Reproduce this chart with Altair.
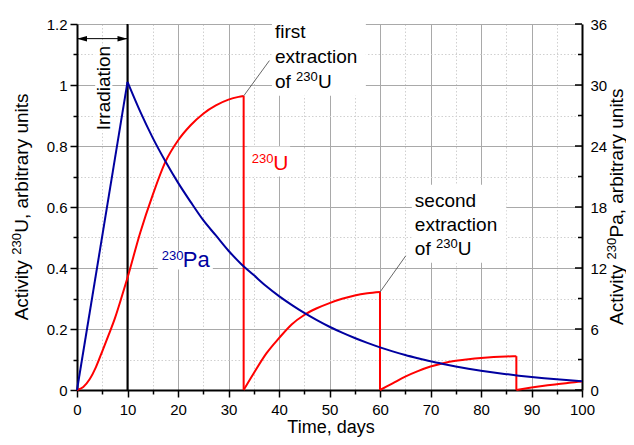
import altair as alt
import pandas as pd

# ---------------- data ----------------
# 230Pa activity (right axis units)
pa_t = [0, 10, 12.5, 15, 17.5, 20, 22.5, 25, 27.5, 30, 32.5, 35, 37.5, 40, 42.5, 45,
        47.5, 50, 52.5, 55, 57.5, 60, 62.5, 65, 67.5, 70, 72.5, 75, 77.5, 80, 82.5,
        85, 87.5, 90, 92.5, 95, 97.5, 100]
pa_a = [0, 30.3, 27.4, 24.8, 22.5, 20.4, 18.5, 16.7, 15.2, 13.7, 12.4, 11.3, 10.2,
        9.23, 8.37, 7.58, 6.87, 6.22, 5.64, 5.11, 4.63, 4.19, 3.80, 3.44, 3.12, 2.82,
        2.56, 2.32, 2.10, 1.90, 1.72, 1.56, 1.41, 1.28, 1.16, 1.05, 0.95, 0.86]

# 230U activity (left axis units): one growth segment between extractions
u_seg1_t = [0, 1.25, 2.5, 3.75, 5, 6.25, 7.5, 8.75, 10, 12.5, 15, 17.5, 20, 22.5, 25,
            27.5, 30, 32, 33]
u_seg1_a = [0, 0.01, 0.035, 0.075, 0.127, 0.18, 0.235, 0.3, 0.368, 0.515, 0.64, 0.748,
            0.818, 0.868, 0.906, 0.933, 0.952, 0.961, 0.964]
u_seg2_t = [33, 35, 37.5, 40, 42.5, 45, 47.5, 50, 52.5, 55, 57.5, 60]
u_seg2_a = [0, 0.055, 0.12, 0.17, 0.215, 0.246, 0.268, 0.285, 0.299, 0.31, 0.317, 0.321]
u_seg3_t = [60, 62.5, 65, 67.5, 70, 72.5, 75, 77.5, 80, 82.5, 85, 87]
u_seg3_a = [0, 0.022, 0.044, 0.062, 0.077, 0.088, 0.096, 0.101, 0.105, 0.108, 0.11, 0.111]
u_seg4_t = [87, 90, 92.5, 95, 97.5, 100]
u_seg4_a = [0, 0.008, 0.014, 0.019, 0.024, 0.028]

x_ticks = [0, 5, 10, 15, 20, 25, 30, 35, 40, 45, 50, 55, 60, 65, 70, 75, 80, 85, 90, 95, 100]
y_ticks = [0, 0.1, 0.2, 0.3, 0.4, 0.5, 0.6, 0.7, 0.8, 0.9, 1.0, 1.1, 1.2]
pa_major = [0, 6, 12, 18, 24, 30, 36]
pa_minor = [3, 9, 15, 21, 27, 33]

irradiation_end = 10

FONT = "Liberation Sans"
RED = "#ff0000"
BLUE = "#0000a0"

major_x = "datum.value % 10 === 0"
major_y = "round(datum.value * 10) % 2 === 0"

xaxis = alt.Axis(
    values=x_ticks, title=None, grid=True,
    labelExpr=f"{major_x} ? datum.label : ''",
    labelFont=FONT, labelFontSize=15, labelColor="black", labelPadding=5,
    labelFlush=False, labelOverlap=False, labelBound=False,
    domainColor="black", domainWidth=2,
    tickColor="black", tickWidth=1.5,
    tickSize={"condition": {"test": major_x, "value": 7}, "value": 4},
    gridColor={"condition": {"test": major_x, "value": "#a9a9a9"}, "value": "#d0d0d0"},
    gridDash={"condition": {"test": major_x, "value": []}, "value": [1.5, 2]},
    gridWidth=1,
)
yaxis = alt.Axis(
    values=y_ticks, title=None, grid=True,
    labelExpr=f"{major_y} ? format(datum.value, '~g') : ''",
    labelFont=FONT, labelFontSize=15, labelColor="black", labelPadding=3,
    labelFlush=False, labelOverlap=False, labelBound=False,
    domainColor="black", domainWidth=2,
    tickColor="black", tickWidth=1.5,
    tickSize={"condition": {"test": major_y, "value": 7}, "value": 4},
    gridColor={"condition": {"test": major_y, "value": "#a9a9a9"}, "value": "#d0d0d0"},
    gridDash={"condition": {"test": major_y, "value": []}, "value": [1.5, 2]},
    gridWidth=1,
)
paaxis = alt.Axis(
    orient="right", values=pa_major, title=None, grid=False, ticks=False, tickSize=0,
    labelFont=FONT, labelFontSize=15, labelColor="black", labelPadding=8,
    labelFlush=False, labelOverlap=False, labelBound=False,
    domainColor="black", domainWidth=2,
)

xs = alt.Scale(domain=[0, 100], nice=False)
ys = alt.Scale(domain=[0, 1.2], nice=False)
ps = alt.Scale(domain=[0, 36], nice=False)
X = alt.X("x:Q", scale=xs, axis=xaxis)
Y = alt.Y("y:Q", scale=ys, axis=yaxis)
YP = alt.Y("y:Q", scale=ps, axis=paaxis)

# ---------------- annotation layout (data units) ----------------
boxes = pd.DataFrame({
    "x": [38.6, 33.7, 16.0, 66.3, 3.6],
    "x2": [57.2, 42.2, 26.9, 85.0, 7.0],
    "y": [0.965, 0.70, 0.395, 0.417, 0.85],
    "y2": [1.2, 0.798, 0.456, 0.673, 1.128],
})
leaders = pd.DataFrame({"x": [33, 60], "x2": [38.1, 65.1],
                        "y": [0.964, 0.321], "y2": [1.08, 0.44]})
arrow_y = 1.152


def text_layer(x, y, s, size=19, color="black", dx=0, dy=0, angle=0, align="left"):
    df = pd.DataFrame({"x": [x], "y": [y], "t": [s]})
    return alt.Chart(df).mark_text(
        font=FONT, fontSize=size, color=color, dx=dx, dy=dy, angle=angle,
        align=align, baseline="alphabetic"
    ).encode(x=X, y=Y, text="t:N")


def px_text(px, py, s, size=19, dx=0, dy=0, angle=0, align="left"):
    df = pd.DataFrame({"t": [s]})
    return alt.Chart(df).mark_text(
        font=FONT, fontSize=size, color="black", dx=dx, dy=dy, angle=angle,
        align=align, baseline="alphabetic"
    ).encode(x=alt.value(px), y=alt.value(py), text="t:N")


box_layer = alt.Chart(boxes).mark_rect(color="white").encode(x=X, x2="x2:Q", y=Y, y2="y2:Q")

vline = alt.Chart(pd.DataFrame({"x": [irradiation_end], "y": [0], "y2": [1.2]})).mark_rule(
    color="black", strokeWidth=2).encode(x=X, y=Y, y2="y2:Q")

arrow_line = alt.Chart(pd.DataFrame({"x": [0], "x2": [irradiation_end], "y": [arrow_y]})).mark_rule(
    color="black", strokeWidth=1).encode(x=X, x2="x2:Q", y=Y)
arrow_l = alt.Chart(pd.DataFrame({"x": [0], "y": [arrow_y]})).mark_point(
    shape="M0,0L2,-0.55L2,0.55Z", size=100, filled=True, color="black", opacity=1).encode(x=X, y=Y)
arrow_r = alt.Chart(pd.DataFrame({"x": [irradiation_end], "y": [arrow_y]})).mark_point(
    shape="M0,0L-2,-0.55L-2,0.55Z", size=100, filled=True, color="black", opacity=1).encode(x=X, y=Y)

segs_t = [u_seg1_t, u_seg2_t, u_seg3_t, u_seg4_t]
segs_a = [u_seg1_a, u_seg2_a, u_seg3_a, u_seg4_a]
rows = []
for k, (tt, aa) in enumerate(zip(segs_t, segs_a)):
    for t, a in zip(tt, aa):
        rows.append({"x": t, "y": a, "seg": k})
u_df = pd.DataFrame(rows)
u_line = alt.Chart(u_df).mark_line(color=RED, strokeWidth=2, interpolate="monotone").encode(
    x=X, y=Y, detail="seg:N")
# vertical drops at each extraction: from the end of a segment down to zero
drops = pd.DataFrame({"x": [tt[-1] for tt in segs_t[:-1]],
                      "y": [aa[-1] for aa in segs_a[:-1]],
                      "y2": [0] * (len(segs_t) - 1)})
u_drops = alt.Chart(drops).mark_rule(color=RED, strokeWidth=2).encode(x=X, y=Y, y2="y2:Q")

leader_layer = alt.Chart(leaders).mark_rule(color="#404040", strokeWidth=0.8).encode(
    x=X, x2="x2:Q", y=Y, y2="y2:Q")

texts = [
    text_layer(6.55, 0.99, "Irradiation", angle=270, align="center"),
    text_layer(39.2, 1.155, "first"),
    text_layer(39.2, 1.073, "extraction"),
    text_layer(39.2, 0.991, "of"),
    text_layer(39.2, 0.991, "230", size=13, dx=21.1, dy=-7),
    text_layer(39.2, 0.991, "U", dx=43),
    text_layer(66.9, 0.601, "second"),
    text_layer(66.9, 0.522, "extraction"),
    text_layer(66.9, 0.443, "of"),
    text_layer(66.9, 0.443, "230", size=13, dx=21.1, dy=-7),
    text_layer(66.9, 0.443, "U", dx=43),
    text_layer(34.6, 0.722, "230", size=13, color=RED, dy=-6.5),
    text_layer(34.6, 0.722, "U", size=21, color=RED, dx=21.5),
    text_layer(16.8, 0.402, "230", size=13, color=BLUE, dy=-7),
    text_layer(16.8, 0.402, "Pa", size=22, color=BLUE, dx=21),
]

titles = [
    # left axis title
    px_text(-49.5, 183, "Activity", angle=270, dx=-113.3),
    px_text(-49.5, 183, "230", size=13, angle=270, dx=-47.8, dy=-7),
    px_text(-49.5, 183, "U, arbitrary units", angle=270, dx=-25.8),
    # right axis title
    px_text(546, 183, "Activity", angle=270, dx=-118),
    px_text(546, 183, "230", size=13, angle=270, dx=-52.5, dy=-7),
    px_text(546, 183, "Pa, arbitrary units", angle=270, dx=-30.5),
    # bottom title
    px_text(254, 409, "Time, days", size=18, align="center"),
]

left = alt.layer(box_layer, vline, arrow_line, arrow_l, arrow_r, u_line, u_drops,
                 leader_layer, *texts, *titles)

pa_df = pd.DataFrame({"x": pa_t, "y": pa_a})
pa_rise = alt.Chart(pa_df).transform_filter(f"datum.x <= {irradiation_end}").mark_line(
    color=BLUE, strokeWidth=2).encode(x=X, y=YP)
pa_decay = alt.Chart(pa_df).transform_filter(f"datum.x >= {irradiation_end}").mark_line(
    color=BLUE, strokeWidth=2, interpolate="monotone").encode(x=X, y=YP)
tick_major = alt.Chart(pd.DataFrame({"x": [100] * len(pa_major), "y": pa_major})).mark_tick(
    orient="horizontal", size=7, thickness=1.5, xOffset=-3.5, color="black", opacity=1
).encode(x=X, y=YP)
tick_minor = alt.Chart(pd.DataFrame({"x": [100] * len(pa_minor), "y": pa_minor})).mark_tick(
    orient="horizontal", size=4, thickness=1.5, xOffset=-2, color="black", opacity=1
).encode(x=X, y=YP)

right = alt.layer(pa_rise, pa_decay, tick_major, tick_minor)

chart = alt.layer(left, right).resolve_scale(y="independent").properties(
    width=505, height=366,
    padding={"left": 69, "top": 16, "right": 44, "bottom": 47},
    autosize=alt.AutoSizeParams(type="none"),
    background="white",
).configure_view(stroke=None)

chart.save("out.html", embed_options={"renderer": "svg", "actions": False})
